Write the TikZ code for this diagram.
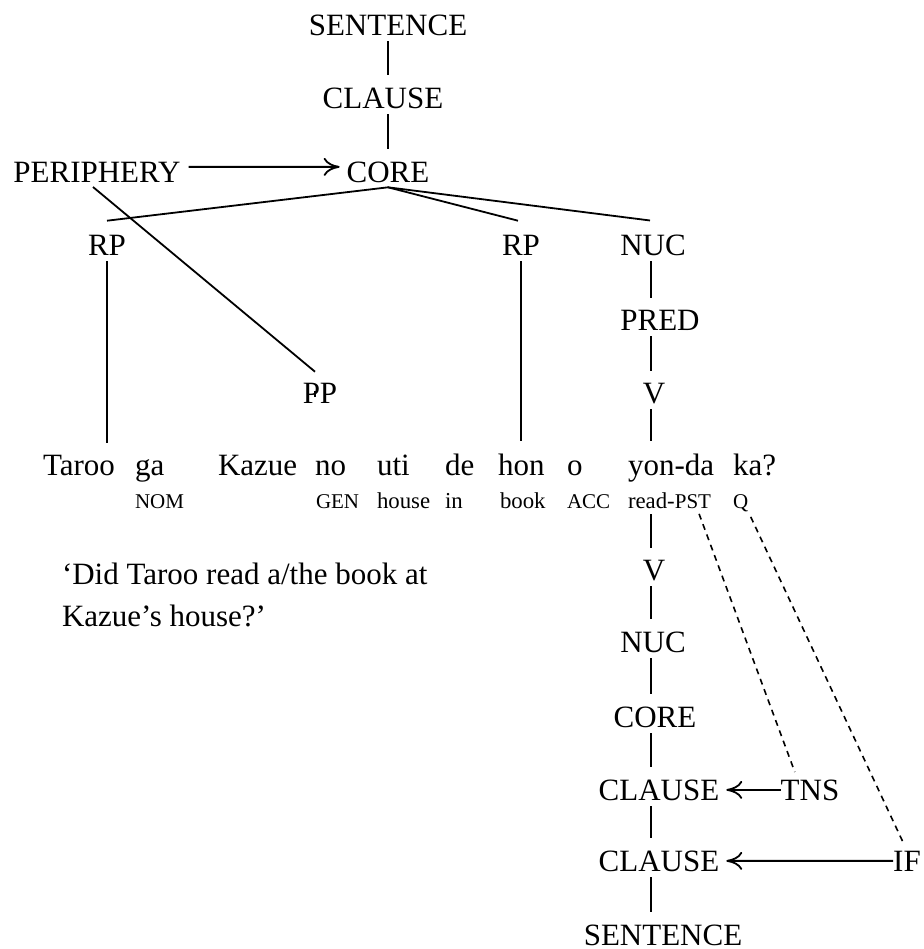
\documentclass[tikz,border=0pt]{standalone}
\usepackage{fontspec}
\setmainfont{Liberation Serif}
\usetikzlibrary{arrows.meta, positioning}

\begin{document}
\begin{tikzpicture}[
      x=0.5pt, y=-0.5pt,
      cat/.style={inner sep=0pt, outer sep=0pt, anchor=base,
                  font=\fontsize{15.5}{18}\selectfont},
      wd/.style={cat, anchor=base west},
      gl/.style={inner sep=0pt, outer sep=0pt, anchor=base west,
                 font=\fontsize{11.4}{13}\selectfont},
      sc/.style={gl, font=\fontsize{10.5}{12}\selectfont},
      edge/.style={line width=0.9pt, shorten <=3pt, shorten >=6pt},
      dep/.style={line width=0.8pt, dash pattern=on 3pt off 2.5pt,
                  shorten <=3pt, shorten >=4pt},
      arr/.style={line width=0.9pt, -{To[length=8pt,width=9pt]}}
    ]
    \useasboundingbox (0,0) rectangle (923,949);
    \coordinate (trunk) at (651,0);

    % layered structure above the sentence
    \node[cat] (s1) at (388,35) {SENTENCE};
    \node[cat] (cl1) at (383,108) {CLAUSE};
    \node[cat] (core1) at (388,182) {CORE};
    \node[cat] (peri) at (97,182) {PERIPHERY};
    \node[cat] (rp1) at (107,255) {RP};
    \node[cat] (rp2) at (521,255) {RP};
    \node[cat] (nuc1) at (653,255) {NUC};
    \node[cat] (pred) at (660,330) {PRED};
    \node[cat] (pp) at (320,403) {PP};
    \node[cat] (v1) at (654,403) {V};

    % the example and its gloss
    \node[wd] (taroo) at (43,475) {Taroo};
    \node[wd] (ga) at (135,475) {ga};
    \node[wd] (kazue) at (218,475) {Kazue};
    \node[wd] (no) at (315,475) {no};
    \node[wd] (uti) at (377,475) {uti};
    \node[wd] (de) at (445,475) {de};
    \node[wd] (hon) at (498,475) {hon};
    \node[wd] (o) at (567,475) {o};
    \node[wd] (yonda) at (628,475) {yon-da};
    \node[wd] (ka) at (733,475) {ka?};

    \node[sc] (nom) at (135,508) {NOM};
    \node[sc] (gen) at (316,508) {GEN};
    \node[gl] (house) at (377,508) {house};
    \node[gl] (in) at (445,508) {in};
    \node[gl] (book) at (500,508) {book};
    \node[sc] (acc) at (567,508) {ACC};
    \node[gl] (read) at (628,508) {read-};
    \node[sc, right=0pt of read.base east, anchor=base west] (pst) {PST};
    \node[sc] (q) at (733,508) {Q};

    % free translation (base anchor sits on the last line)
    \node[wd, align=left, font=\fontsize{15.5}{21}\selectfont] (trans) at (62,626)
      {`Did Taroo read a/the book at\\Kazue’s house?’};

    % operator projection below
    \node[cat] (v2) at (654,580) {V};
    \node[cat] (nuc2) at (653,652) {NUC};
    \node[cat] (core2) at (655,727) {CORE};
    \node[cat] (cl2) at (659,800) {CLAUSE};
    \node[cat] (tns) at (810,800) {TNS};
    \node[cat] (cl3) at (659,871) {CLAUSE};
    \node[cat] (if) at (907,871) {IF};
    \node[cat] (s2) at (663,945) {SENTENCE};

    \draw[edge] (s1.south) -- (s1.south |- cl1.north);
    \draw[edge] (cl1.south -| core1) -- (core1.north);
    \draw[arr, shorten <=4pt, shorten >=3.5pt] ([yshift=2.5pt]peri.east) -- ([yshift=2.5pt]core1.west);
    \draw[line width=0.9pt] ([yshift=-2.5pt]core1.south) -- ([yshift=7pt]rp1.north);
    \draw[line width=0.9pt] ([yshift=-2.5pt]core1.south) -- ([xshift=-1.5pt,yshift=7pt]rp2.north);
    \draw[line width=0.9pt] ([yshift=-2.5pt]core1.south) -- ([xshift=-1.5pt,yshift=7pt]nuc1.north);
    \draw[line width=0.9pt] ([xshift=-2pt,yshift=-2.5pt]peri.south) -- ([xshift=-2.5pt,yshift=5.5pt]pp.north);

    \draw[edge] (rp1.south) -- (rp1.south |- taroo.north);
    \draw[edge] (rp2.south) -- (rp2.south |- hon.north);
    \draw[edge] (pp.south -| no.north west) -- (pp.south -| no.north west |- kazue.north);
    \draw[edge] (nuc1.south -| trunk) -- (pred.north -| trunk);
    \draw[edge] (pred.south -| trunk) -- (v1.north -| trunk);
    \draw[edge] (v1.south -| trunk) -- (yonda.north -| trunk);

    \draw[edge] (read.south -| trunk) -- (v2.north -| trunk);
    \draw[edge] (v2.south -| trunk) -- (nuc2.north -| trunk);
    \draw[edge] (nuc2.south -| trunk) -- (core2.north -| trunk);
    \draw[edge] (core2.south -| trunk) -- (cl2.north -| trunk);
    \draw[edge] (cl2.south -| trunk) -- (cl3.north -| trunk);
    \draw[edge] (cl3.south -| trunk) -- (s2.north -| trunk);

    \draw[arr, shorten >=3.5pt] (tns.west) -- (cl2.east);
    \draw[arr, shorten >=3.5pt] (if.west) -- (cl3.east);
    \draw[dep] (pst.-60) -- (tns.140);
    \draw[dep] (q.south east) -- (if.north);
  \end{tikzpicture}
\end{document}
